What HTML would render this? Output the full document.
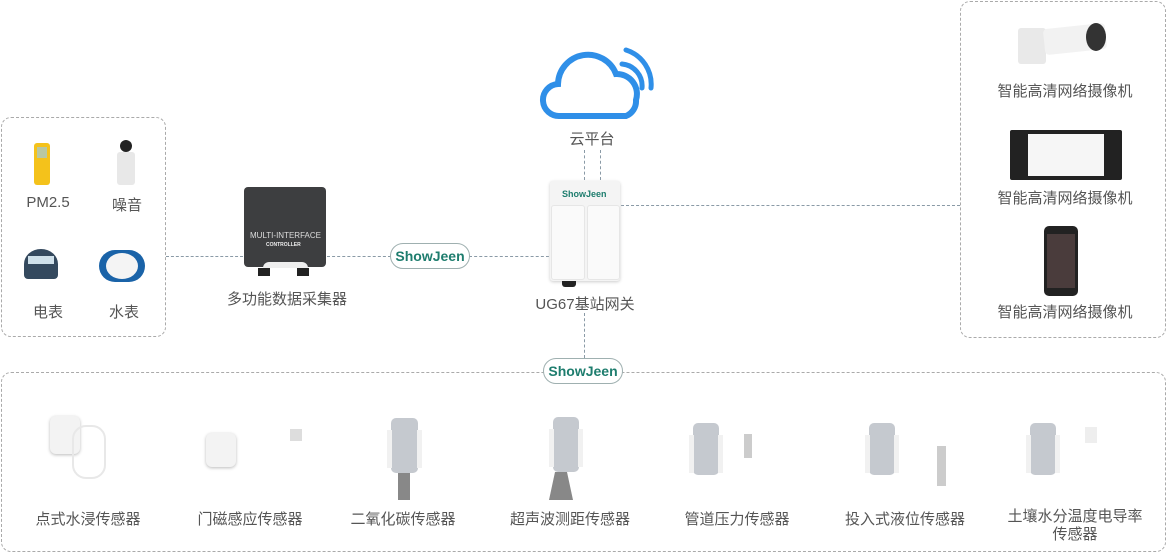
<!DOCTYPE html>
<html><head><meta charset="utf-8"><style>
body{margin:0;width:1167px;height:553px;background:#fff;position:relative;overflow:hidden;font-family:"Liberation Sans","Noto Sans CJK SC",sans-serif;color:#555;}
.a{position:absolute}
.box{position:absolute;border:1px dashed #aaa;border-radius:10px;box-sizing:border-box}
.lbl{position:absolute;font-size:15px;color:#555;text-align:center;white-space:nowrap;transform:translateX(-50%)}
.hl{position:absolute;border-top:1px dashed #8a9aa6;height:0}
.vl{position:absolute;border-left:1px dashed #8a9aa6;width:0}
.pill{position:absolute;border:1px solid #9fb0b0;border-radius:14px;background:#fff;color:#1e7d6e;font-weight:bold;font-size:14px;text-align:center;line-height:24px;height:24px;width:78px}
.sens{position:absolute;background:#c5c9cf;border-radius:5px}
.sens:before{content:"";position:absolute;left:-4px;right:-4px;top:12px;height:38px;border-left:5px solid #f1f1f1;border-right:5px solid #f1f1f1}
</style></head><body>

<div class="box" style="left:1px;top:117px;width:165px;height:220px"></div>
<div class="box" style="left:960px;top:1px;width:206px;height:337px"></div>
<div class="box" style="left:1px;top:372px;width:1165px;height:180px"></div>

<!-- lines -->
<div class="hl" style="left:166px;top:256px;width:77px"></div>
<div class="hl" style="left:327px;top:256px;width:64px"></div>
<div class="hl" style="left:469px;top:256px;width:80px"></div>
<div class="hl" style="left:621px;top:205px;width:339px"></div>
<div class="vl" style="left:584px;top:313px;height:45px"></div>
<div class="vl" style="left:584px;top:150px;height:30px"></div>
<div class="vl" style="left:600px;top:150px;height:30px"></div>

<div class="pill" style="left:390px;top:243px">ShowJeen</div>
<div class="pill" style="left:543px;top:358px">ShowJeen</div>

<!-- cloud -->
<svg class="a" style="left:538px;top:44px" width="116" height="80" viewBox="0 0 116 80">
<path d="M22 72 A16 16 0 0 1 20 40 A30 30 0 0 1 78 30 A20 20 0 0 1 98 56 A16 16 0 0 1 88 72 Z" fill="#fff" stroke="#2f8fe8" stroke-width="6"/>
<path d="M84 20 A22 22 0 0 1 104 44" fill="none" stroke="#2f8fe8" stroke-width="5" stroke-linecap="round"/>
<path d="M88 6 A36 36 0 0 1 113 44" fill="none" stroke="#2f8fe8" stroke-width="5" stroke-linecap="round"/>
</svg>
<div class="lbl" style="left:592px;top:128px">云平台</div>

<!-- gateway -->
<div class="a" style="left:550px;top:181px;width:70px;height:100px;background:#f4f4f4;border-radius:3px;box-shadow:0 1px 3px #ccc"></div>
<div class="a" style="left:551px;top:205px;width:32px;height:73px;background:#fafafa;border-radius:3px;border:1px solid #e6e6e6"></div>
<div class="a" style="left:587px;top:205px;width:31px;height:73px;background:#fafafa;border-radius:3px;border:1px solid #e6e6e6"></div>
<div class="a" style="left:562px;top:189px;font-size:9px;font-weight:bold;color:#1e7d6e">ShowJeen</div>
<div class="a" style="left:562px;top:281px;width:14px;height:6px;background:#222;border-radius:0 0 3px 3px"></div>
<div class="lbl" style="left:585px;top:293px">UG67基站网关</div>

<!-- controller -->
<div class="a" style="left:244px;top:187px;width:82px;height:80px;background:#3d3e40;border-radius:4px"></div>
<div class="a" style="left:250px;top:231px;font-size:8px;color:#ddd">MULTI-INTERFACE</div>
<div class="a" style="left:266px;top:242px;font-size:5px;color:#eee;font-weight:bold">CONTROLLER</div>
<div class="a" style="left:263px;top:262px;width:45px;height:6px;background:#eee;border-radius:6px 6px 0 0"></div>
<div class="a" style="left:258px;top:268px;width:12px;height:8px;background:#222"></div>
<div class="a" style="left:297px;top:268px;width:12px;height:8px;background:#222"></div>
<div class="lbl" style="left:287px;top:288px">多功能数据采集器</div>

<!-- left devices -->
<div class="a" style="left:34px;top:143px;width:16px;height:42px;background:#f4c21b;border-radius:3px"></div>
<div class="a" style="left:37px;top:147px;width:10px;height:11px;background:#b8c7a2"></div>
<div class="a" style="left:120px;top:140px;width:12px;height:12px;background:#222;border-radius:50%"></div>
<div class="a" style="left:117px;top:152px;width:18px;height:33px;background:#e8e8e8;border-radius:3px"></div>
<div class="lbl" style="left:48px;top:194px">PM2.5</div>
<div class="lbl" style="left:127px;top:194px">噪音</div>
<div class="a" style="left:24px;top:249px;width:34px;height:30px;background:#34495e;border-radius:50% 50% 4px 4px"></div>
<div class="a" style="left:28px;top:256px;width:26px;height:8px;background:#cfe0ea"></div>
<div class="a" style="left:99px;top:250px;width:46px;height:32px;background:#1a63a8;border-radius:16px"></div>
<div class="a" style="left:106px;top:253px;width:32px;height:26px;background:#f4f4f4;border-radius:50%"></div>
<div class="lbl" style="left:48px;top:301px">电表</div>
<div class="lbl" style="left:124px;top:301px">水表</div>

<!-- right devices -->
<div class="a" style="left:1018px;top:28px;width:28px;height:36px;background:#e9e9e9;border-radius:3px"></div>
<div class="a" style="left:1044px;top:26px;width:62px;height:26px;background:#f2f2f2;border-radius:4px;transform:rotate(-6deg)"></div>
<div class="a" style="left:1086px;top:23px;width:20px;height:28px;background:#333;border-radius:50%"></div>
<div class="lbl" style="left:1065px;top:80px">智能高清网络摄像机</div>
<div class="a" style="left:1010px;top:130px;width:112px;height:50px;background:#222;border-radius:2px"></div>
<div class="a" style="left:1028px;top:134px;width:76px;height:42px;background:#f6f6f6"></div>
<div class="lbl" style="left:1065px;top:187px">智能高清网络摄像机</div>
<div class="a" style="left:1044px;top:226px;width:34px;height:70px;background:#222;border-radius:5px"></div>
<div class="a" style="left:1047px;top:234px;width:28px;height:54px;background:#4a3c3c"></div>
<div class="lbl" style="left:1065px;top:301px">智能高清网络摄像机</div>

<!-- bottom sensors -->
<div class="a" style="left:50px;top:416px;width:30px;height:38px;background:#f3f3f3;border-radius:6px;box-shadow:0 1px 3px #bbb"></div>
<div class="a" style="left:72px;top:425px;width:30px;height:50px;border:2px solid #e8e8e8;border-radius:14px"></div>
<div class="a" style="left:206px;top:433px;width:30px;height:34px;background:#f3f3f3;border-radius:6px;box-shadow:0 1px 3px #bbb"></div>
<div class="a" style="left:290px;top:429px;width:12px;height:12px;background:#ddd"></div>
<div class="sens" style="left:391px;top:418px;width:27px;height:55px"></div>
<div class="a" style="left:398px;top:473px;width:12px;height:27px;background:#888"></div>
<div class="sens" style="left:553px;top:417px;width:26px;height:55px"></div>
<div class="a" style="left:549px;top:472px;width:24px;height:28px;background:#888;clip-path:polygon(25% 0,75% 0,100% 100%,0 100%)"></div>
<div class="sens" style="left:693px;top:423px;width:26px;height:52px"></div>
<div class="a" style="left:744px;top:434px;width:8px;height:24px;background:#ccc"></div>
<div class="sens" style="left:869px;top:423px;width:26px;height:52px"></div>
<div class="a" style="left:937px;top:446px;width:9px;height:40px;background:#ccc"></div>
<div class="sens" style="left:1030px;top:423px;width:26px;height:52px"></div>
<div class="a" style="left:1085px;top:427px;width:12px;height:16px;background:#eee"></div>

<div class="lbl" style="left:88px;top:508px">点式水浸传感器</div>
<div class="lbl" style="left:250px;top:508px">门磁感应传感器</div>
<div class="lbl" style="left:403px;top:508px">二氧化碳传感器</div>
<div class="lbl" style="left:570px;top:508px">超声波测距传感器</div>
<div class="lbl" style="left:737px;top:508px">管道压力传感器</div>
<div class="lbl" style="left:905px;top:508px">投入式液位传感器</div>
<div class="lbl" style="left:1075px;top:508px;line-height:18px">土壤水分温度电导率<br>传感器</div>
</body></html>
